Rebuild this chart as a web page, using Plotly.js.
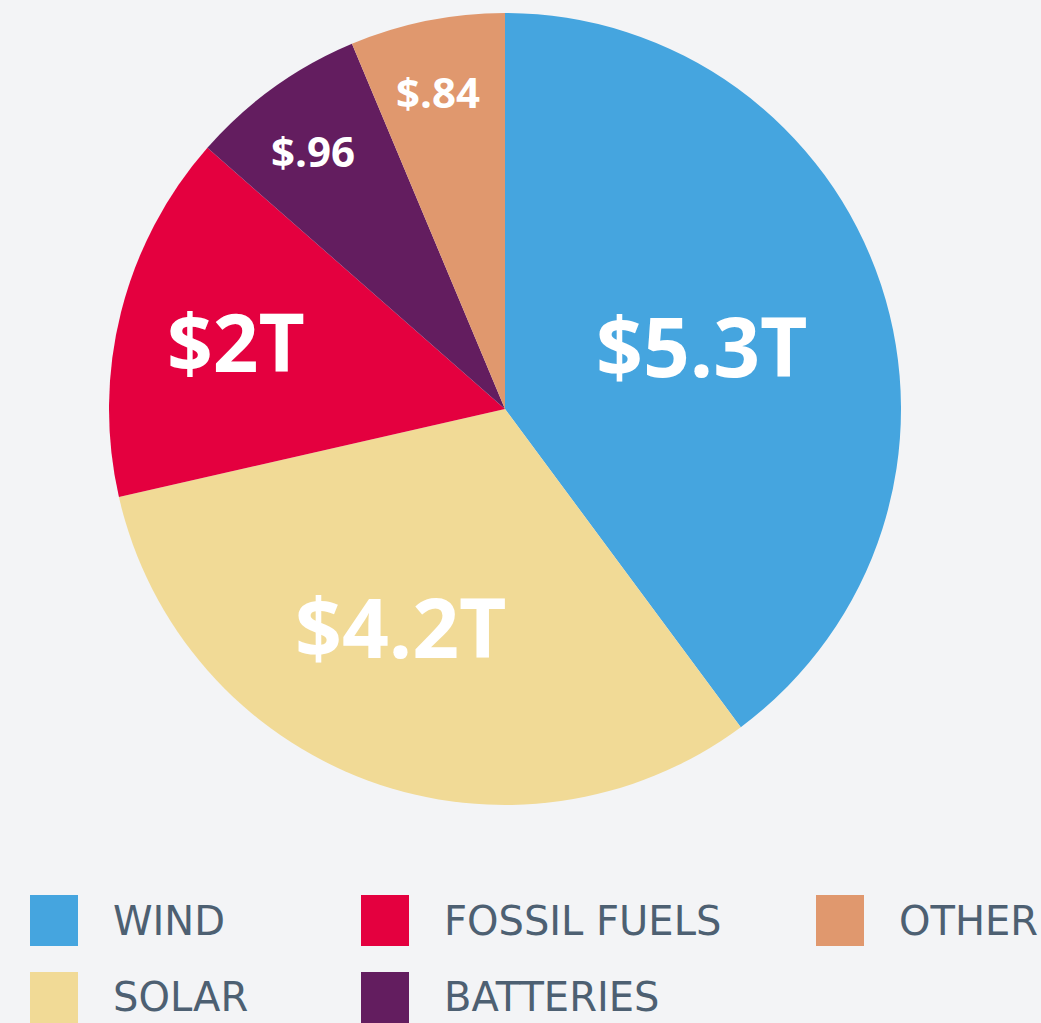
<!DOCTYPE html>
<html>
<head>
<meta charset="utf-8">
<script src="https://cdn.plot.ly/plotly-3.0.1.min.js"></script>
<style>
  html, body { margin: 0; padding: 0; background: #f3f4f6; }
  #chart { width: 1041px; height: 1023px; }
</style>
</head>
<body>
<div id="chart"></div>
<script>
// ---- data ----
const labels = ["WIND", "SOLAR", "FOSSIL FUELS", "BATTERIES", "OTHER"];
const values = [5.3, 4.2, 2.0, 0.96, 0.84];
const valueText = ["$5.3T", "$4.2T", "$2T", "$.96", "$.84"];
const colors = ["#45a5df", "#f1da96", "#e4003f", "#631d5f", "#e0986e"];
// legend layout order (column-major as in the original)
const legendOrder = ["WIND", "SOLAR", "FOSSIL FUELS", "BATTERIES", "OTHER"];

// ---- geometry / style ----
const W = 1041, H = 1023;
const cx = 505, cy = 409, R = 396;
const labelRadius = [0.52, 0.61, 0.70, 0.81, 0.82];
const labelAngleShift = [1.5, 5.3, -0.5, -1, -0.5]; // degrees
const labelSize = [82, 82, 80, 42, 42];
const labelYShift = [5, 1, 3, 1, 0];

const total = values.reduce((a, b) => a + b, 0);
const annotations = [];
let acc = 0;
values.forEach((v, i) => {
  const mid = ((acc + v / 2) / total * 360 + labelAngleShift[i]) * Math.PI / 180;
  acc += v;
  const r = labelRadius[i] * R;
  const px = cx + r * Math.sin(mid);
  const py = cy - r * Math.cos(mid);
  annotations.push({
    x: px / W, y: 1 - py / H, xref: "paper", yref: "paper",
    xanchor: "center", yanchor: "middle", showarrow: false,
    yshift: labelYShift[i],
    text: "<b>" + valueText[i] + "</b>",
    font: { family: "Open Sans", size: labelSize[i], color: "#ffffff" }
  });
});

// legend built from shapes + annotations (column-major layout)
const shapes = [];
const colX = [30, 361, 816];
const rowY = [895, 972];
const textOffset = 81;
legendOrder.forEach((name, k) => {
  const col = Math.floor(k / 2), row = k % 2;
  const idx = labels.indexOf(name);
  const x0 = colX[col], y0 = rowY[row];
  shapes.push({
    type: "rect", xref: "paper", yref: "paper",
    x0: x0 / W, x1: (x0 + 48) / W, y0: 1 - y0 / H, y1: 1 - (y0 + 51) / H,
    fillcolor: colors[idx], line: { width: 0 }
  });
  annotations.push({
    x: (x0 + textOffset) / W, y: 1 - (y0 + (row === 0 ? 26 : 25)) / H, xref: "paper", yref: "paper",
    xanchor: "left", yanchor: "middle", showarrow: false,
    text: name,
    font: { family: "DejaVu Sans", size: 40, color: "#4d6072" }
  });
});

const trace = {
  type: "pie",
  labels: labels,
  values: values,
  sort: false,
  direction: "clockwise",
  rotation: 0,
  textinfo: "none",
  hoverinfo: "label+value",
  marker: { colors: colors, line: { width: 0 } },
  domain: { x: [(cx - R) / W, (cx + R) / W], y: [1 - (cy + R) / H, 1 - (cy - R) / H] },
  showlegend: false
};

const layout = {
  width: W, height: H,
  margin: { l: 0, r: 0, t: 0, b: 0 },
  paper_bgcolor: "#f3f4f6",
  plot_bgcolor: "#f3f4f6",
  showlegend: false,
  shapes: shapes,
  annotations: annotations
};

Plotly.newPlot("chart", [trace], layout, { displayModeBar: false, staticPlot: true });
</script>
</body>
</html>
